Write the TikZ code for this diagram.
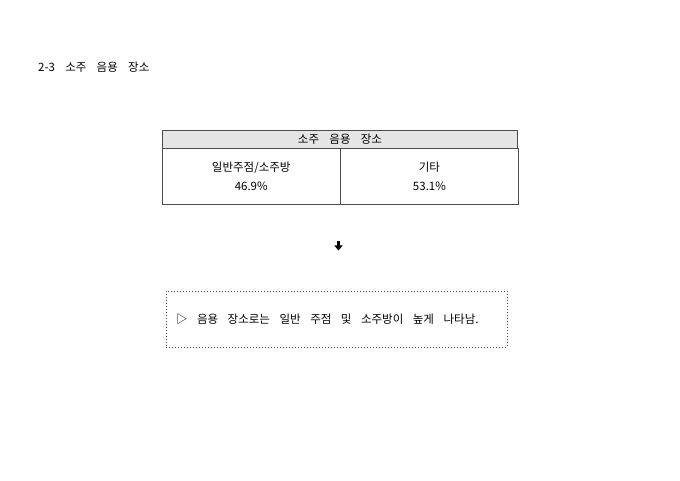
\documentclass[tikz,border=0pt]{standalone}
\usepackage{fontspec}
\setmainfont{Noto Sans CJK KR}[WordSpace={4,0,0}]
\newfontfamily\notefont{Noto Sans CJK KR}[WordSpace={3.7,0,0}]
\usepackage{tikz}
\usetikzlibrary{arrows.meta}
\tikzset{x=1pt, y=-1pt,
  every node/.style={font=\fontsize{11.5}{19}\selectfont, inner sep=0pt},
  headcell/.style={draw=black!70, fill=black!10, line width=0.7pt,
    minimum width=355pt, minimum height=17.5pt},
  cell/.style={draw=black!70, line width=0.7pt, align=center,
    minimum width=177.5pt, minimum height=56pt},
  notebox/.style={draw=black!70, dash pattern=on 1.3pt off 1.7pt, line width=0.7pt,
    align=flush left, font=\notefont\fontsize{11.5}{19}\selectfont,
    text width=321pt, inner xsep=10pt, minimum height=56pt},
  downarrow/.style={-{Triangle[width=8pt,length=5pt]}, line width=2.6pt}}

\begin{document}
\begin{tikzpicture}
  \useasboundingbox (0,0) rectangle (680,481);
  \node (title) [anchor=west] at (38,67) {2-3 소주 음용 장소};
  \node (head) [headcell] at (340,139.25) {소주 음용 장소};
  \node (left) [cell, anchor=north west] at (head.south west) {일반주점/소주방\\46.9\%};
  \node (right) [cell, anchor=north west] at (left.north east) {기타\\53.1\%};
  \coordinate (a1) at (338.5,241.5);
  \coordinate (a2) at (338.5,250.5);
  \draw[downarrow] (a1) -- (a2);
  \node (note) [notebox] at (336.5,319) {▷ 음용 장소로는 일반 주점 및 소주방이 높게 나타남.};
\end{tikzpicture}
\end{document}
